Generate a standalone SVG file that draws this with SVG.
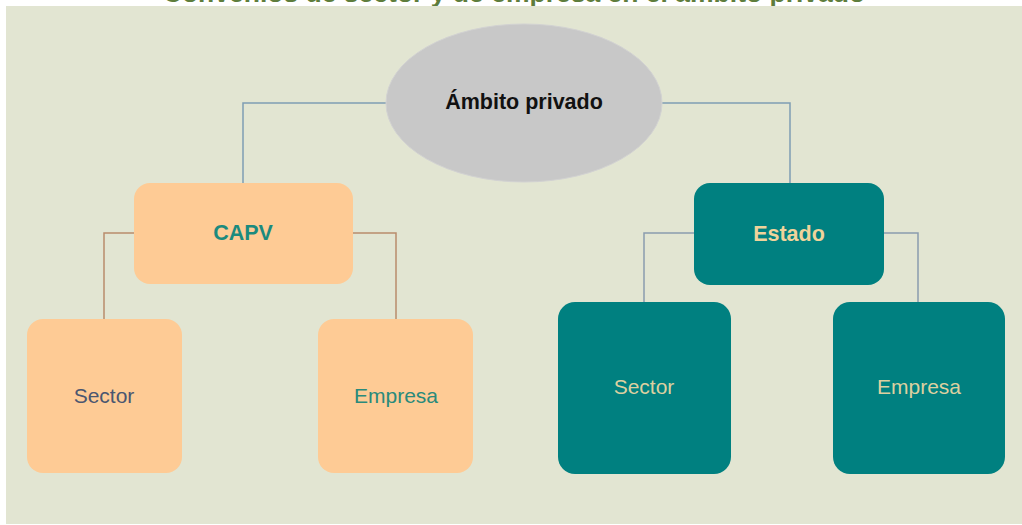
<svg xmlns="http://www.w3.org/2000/svg" width="1022" height="525" viewBox="0 0 1022 525">
  <style>
    text { font-family: "Liberation Sans", Arial, sans-serif; text-anchor: middle; }
    .title { font-size: 26.5px; font-weight: bold; fill: #5e7d3c; }
    .bold { font-weight: bold; font-size: 21.5px; }
    .reg { font-size: 21px; }
    .peach { fill: #fecb95; }
    .teal { fill: #008080; }
    .link-blue { fill: none; stroke: #7f9db4; stroke-width: 1.5; }
    .link-brown { fill: none; stroke: #b98c6c; stroke-width: 1.5; }
    .link-grey { fill: none; stroke: #8b9cae; stroke-width: 1.5; }
  </style>

  <!-- page and heading (heading sits partly above the panel) -->
  <rect x="0" y="0" width="1022" height="525" fill="#ffffff"/>
  <text class="title" x="514" y="2">Convenios de sector y de empresa en el ámbito privado</text>
  <rect x="6" y="6" width="1016" height="518" fill="#e2e5d2"/>

  <!-- connectors -->
  <g id="connectors">
    <path class="link-blue" d="M386,103 H243 V183"/>
    <path class="link-blue" d="M662,103 H790 V183"/>
    <path class="link-brown" d="M134,233 H104 V319"/>
    <path class="link-brown" d="M353,233 H396 V319"/>
    <path class="link-grey" d="M694,233 H644 V302"/>
    <path class="link-grey" d="M884,233 H918 V302"/>
  </g>

  <g id="ambito">
    <ellipse cx="524" cy="103" rx="138" ry="79" fill="#c8c8c8" stroke="#d2d2d2" stroke-width="1"/>
    <text class="bold" x="524" y="109" fill="#111111">Ámbito privado</text>
  </g>

  <g id="capv">
    <rect class="peach" x="134" y="183" width="219" height="101" rx="16"/>
    <text class="bold" x="243" y="240" fill="#1b8a7e">CAPV</text>
  </g>

  <g id="estado">
    <rect class="teal" x="694" y="183" width="190" height="102" rx="16"/>
    <text class="bold" x="789" y="241" fill="#efd39b">Estado</text>
  </g>

  <g id="capv-sector">
    <rect class="peach" x="27" y="319" width="155" height="154" rx="16"/>
    <text class="reg" x="104" y="403" fill="#4a5670">Sector</text>
  </g>

  <g id="capv-empresa">
    <rect class="peach" x="318" y="319" width="155" height="154" rx="16"/>
    <text class="reg" x="396" y="403" fill="#2a8a7b">Empresa</text>
  </g>

  <g id="estado-sector">
    <rect class="teal" x="558" y="302" width="173" height="172" rx="17"/>
    <text class="reg" x="644" y="394" fill="#ddd0a0">Sector</text>
  </g>

  <g id="estado-empresa">
    <rect class="teal" x="833" y="302" width="172" height="172" rx="17"/>
    <text class="reg" x="919" y="394" fill="#ddd0a0">Empresa</text>
  </g>
</svg>
